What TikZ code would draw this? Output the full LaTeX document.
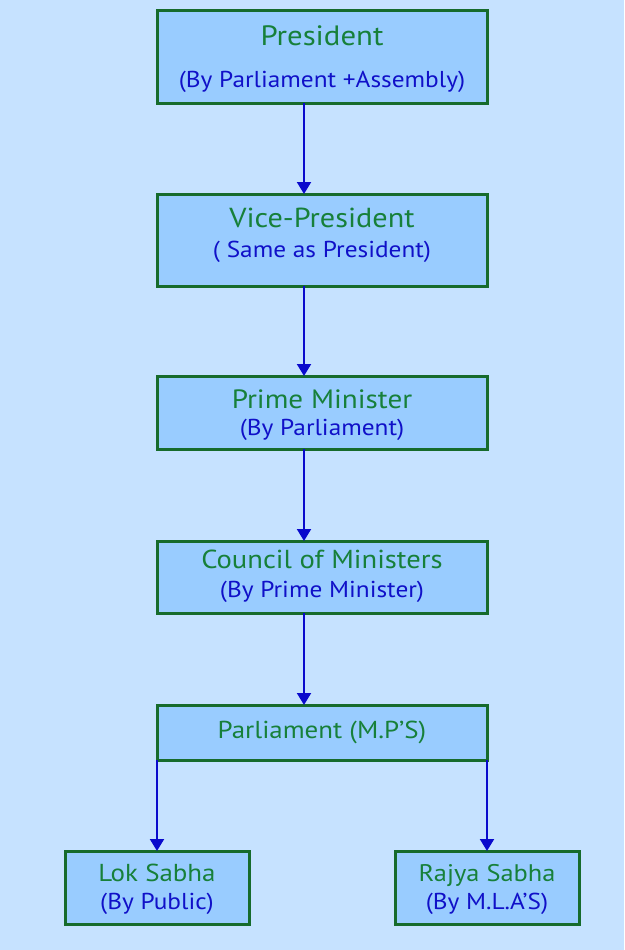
\documentclass[tikz,border=0pt]{standalone}
\usepackage{fontspec}
\setmainfont[FakeStretch=1.1]{PT Sans}
\usetikzlibrary{arrows.meta}
\definecolor{bgc}{RGB}{198,226,255}
\definecolor{boxfill}{RGB}{153,204,255}
\definecolor{boxline}{RGB}{22,107,44}
\definecolor{titlec}{RGB}{23,128,58}
\definecolor{subc}{RGB}{16,16,200}
\definecolor{arrowc}{RGB}{10,10,204}
\begin{document}
\begin{tikzpicture}[x=1pt,y=-1pt,
  box/.style={draw=boxline, line width=3pt, fill=boxfill, inner sep=0pt,
    outer sep=0pt, minimum width=330pt},
  small/.style={box, minimum width=184pt},
  ttl/.style={anchor=base, inner sep=0pt, text=titlec, font=\fontsize{#1}{#1}\selectfont},
  sbt/.style={anchor=base, inner sep=0pt, text=subc, font=\fontsize{23}{23}\selectfont},
  conn/.style={draw=arrowc, line width=2pt, -{Triangle[width=14pt,length=12pt]}}]
\fill[bgc] (0,0) rectangle (624,950);
\useasboundingbox (0,0) rectangle (624,950);
% boxes
\node[box, minimum height=92pt] (pres) at (322,57) {};
\node[box, minimum height=92pt] (vice) at (322,240) {};
\node[box, minimum height=73pt] (pm) at (322,412.5) {};
\node[box, minimum height=72pt] (com) at (322,577) {};
\node[box, minimum height=55pt] (par) at (322,732.5) {};
\node[small, minimum height=73pt] (lok) at (157,887.5) {};
\node[small, minimum height=73pt] (raj) at (487,887.5) {};
% texts
\node[ttl=28] (pres-t) at (322,46) {President};
\node[sbt] (pres-s) at (322,87) {(By Parliament +Assembly)};
\node[ttl=27.5] (vice-t) at (322,227) {Vice-President};
\node[sbt] (vice-s) at (322,257) {( Same as President)};
\node[ttl=26.5] (pm-t) at (322,408) {Prime Minister};
\node[sbt] (pm-s) at (322,435) {(By Parliament)};
\node[ttl=26] (com-t) at (322,568) {Council of Ministers};
\node[sbt] (com-s) at (322,597) {(By Prime Minister)};
\node[ttl=24.5] (par-t) at (322,738) {Parliament (M.P’S)};
\node[ttl=24.5] (lok-t) at (157,881) {Lok Sabha};
\node[sbt] (lok-s) at (157,909) {(By Public)};
\node[ttl=24] (raj-t) at (487,881) {Rajya Sabha};
\node[sbt] (raj-s) at (487,909) {(By M.L.A’S)};
% connectors
\draw[conn] (pres.south -| 304,0) -- (vice.north -| 304,0);
\draw[conn] (vice.south -| 304,0) -- (pm.north -| 304,0);
\draw[conn] (pm.south -| 304,0) -- (com.north -| 304,0);
\draw[conn] (com.south -| 304,0) -- (par.north -| 304,0);
\draw[conn] (par.south west) -- (lok.north);
\draw[conn] (par.south east) -- (raj.north);
\end{tikzpicture}
\end{document}
